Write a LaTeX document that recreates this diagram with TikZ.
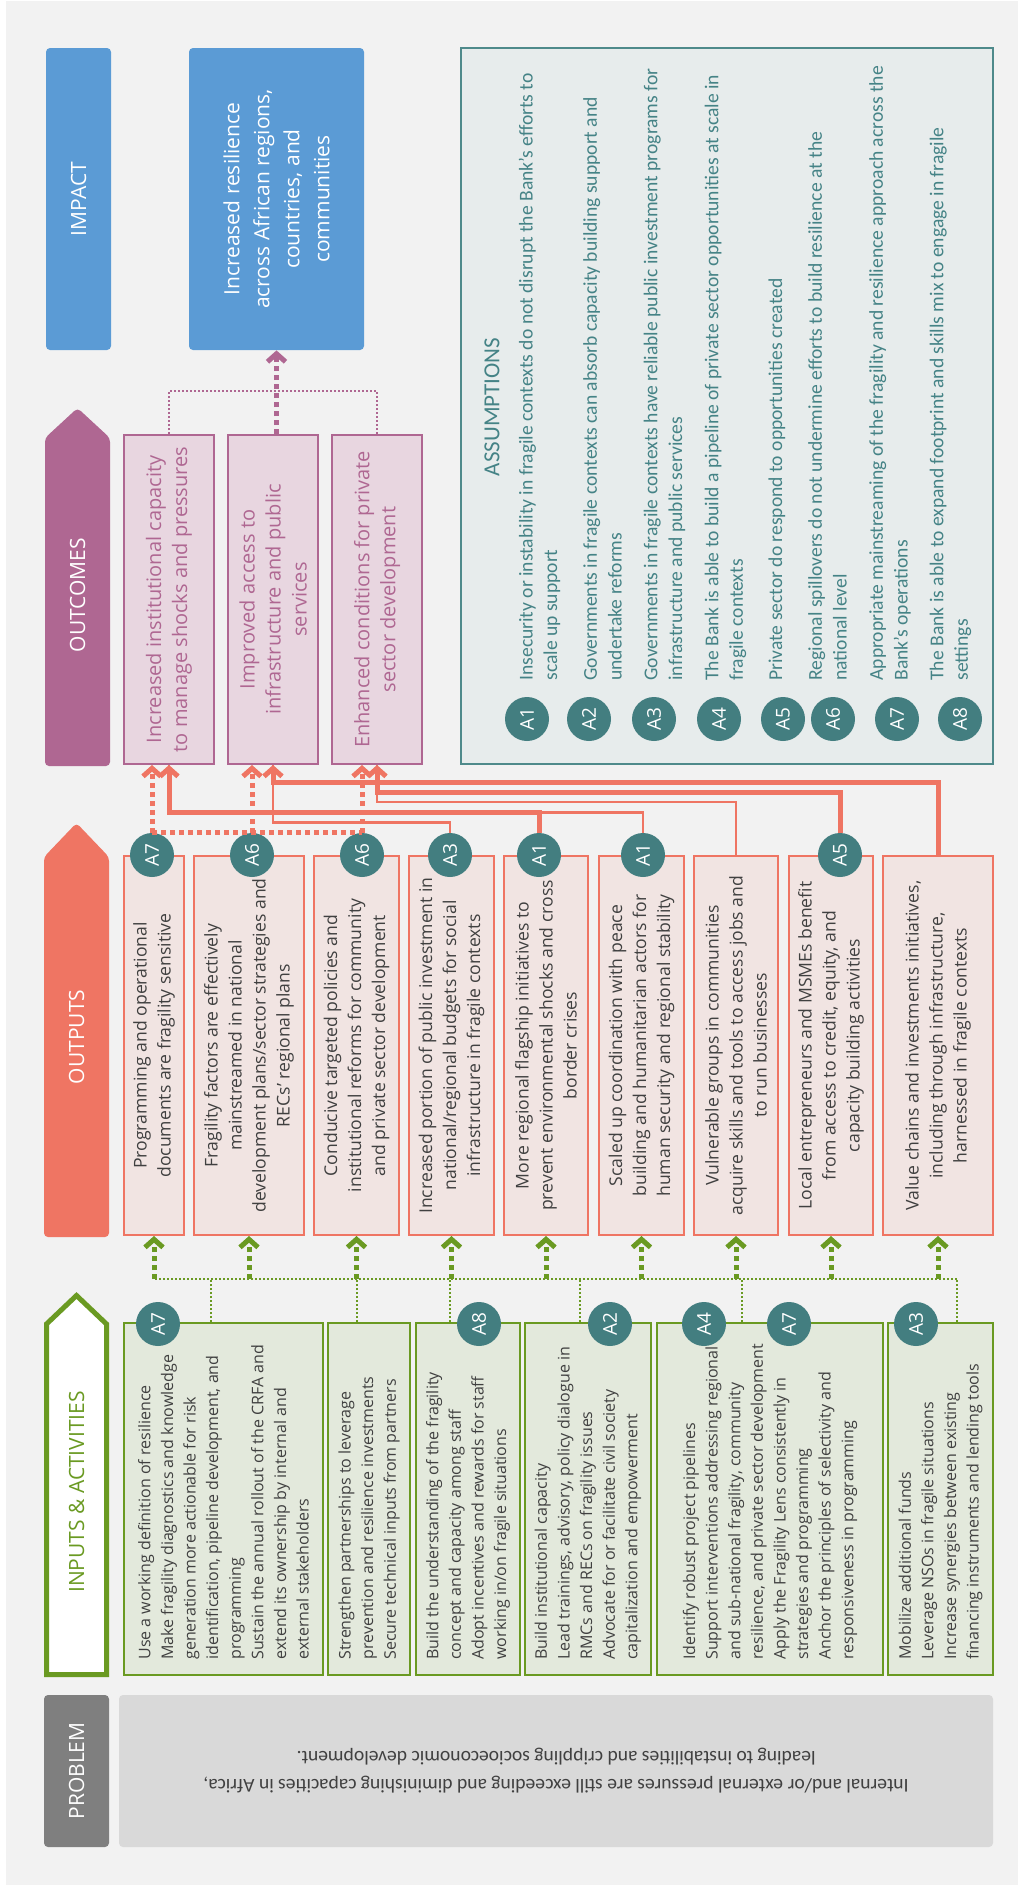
\documentclass[tikz,border=0pt]{standalone}
\usepackage{fontspec}
\usepackage{graphicx}
\setmainfont{Open Sans}
\newfontfamily\calfont{Carlito}
\usetikzlibrary{arrows.meta}

\definecolor{bggray}{HTML}{F2F2F2}
\definecolor{impblue}{HTML}{5B9BD5}
\definecolor{mauve}{HTML}{AF6792}
\definecolor{mauvefill}{HTML}{E8D6E0}
\definecolor{coral}{HTML}{EF7563}
\definecolor{coralfill}{HTML}{F1E4E2}
\definecolor{leaf}{HTML}{6A9A22}
\definecolor{leaffill}{HTML}{E3E9DC}
\definecolor{tealdark}{HTML}{437E80}
\definecolor{tealline}{HTML}{4F8A8B}
\definecolor{tealfill}{HTML}{E7ECEC}
\definecolor{tealtext}{HTML}{458386}
\definecolor{probhead}{HTML}{7F7F7F}
\definecolor{probfill}{HTML}{D9D9D9}
\definecolor{inktext}{HTML}{404040}

\tikzset{
  hdrbox/.style={rotate=90,rounded corners=2pt,minimum height=32.5pt,inner sep=0pt,text=white,font=\fontsize{10.5}{12}\selectfont},
  hdrtext/.style={rotate=90,inner sep=0pt,text=white,font=\fontsize{10.5}{12}\selectfont},
  impbox/.style={fill=impblue,rounded corners=2pt,minimum width=87.5pt,minimum height=151pt},
  imptext/.style={rotate=90,align=center,inner sep=0pt,text=white,font=\fontsize{10.5}{15}\selectfont},
  ocbox/.style={draw=mauve,line width=1pt,fill=mauvefill,minimum width=45pt,minimum height=164.5pt,inner sep=0pt},
  octext/.style={rotate=90,align=center,inner sep=0pt,text=mauve,font=\fontsize{10}{13}\selectfont},
  assbox/.style={draw=tealline,line width=1pt,fill=tealfill,minimum width=266pt,minimum height=358pt},
  asstitle/.style={rotate=90,inner sep=0pt,text=tealtext,font=\calfont\fontsize{11.5}{13}\selectfont},
  asstext/.style={rotate=90,anchor=west,align=left,inner sep=0pt,text=tealtext,font=\calfont\fontsize{9.8}{12.3}\selectfont},
  outbox/.style={draw=coral,line width=1pt,fill=coralfill,minimum height=189.5pt,inner sep=0pt},
  outtext/.style={rotate=90,align=center,inner sep=0pt,text=inktext,font=\fontsize{8.8}{12}\selectfont},
  inbox/.style={draw=leaf,line width=1pt,fill=leaffill,minimum height=176pt,inner sep=0pt},
  intext/.style={rotate=90,anchor=west,align=left,inner sep=0pt,text=inktext,font=\fontsize{8}{11.3}\selectfont},
  probbox/.style={fill=probfill,rounded corners=2pt,minimum width=437pt,minimum height=76pt},
  probtext/.style={rotate=180,align=center,inner sep=0pt,text=inktext,font=\calfont\fontsize{9.8}{14}\selectfont},
  badge/.style={circle,fill=tealdark,text=white,minimum size=22pt,inner sep=0pt,font=\fontsize{9.5}{10}\selectfont},
  chevron/.style={-{Straight Barb[length=4pt,width=9pt]}},
  coralthick/.style={draw=coral,line width=2.5pt},
  coralthin/.style={draw=coral,line width=1.2pt},
  coraldot/.style={draw=coral,line width=2.5pt,dash pattern=on 2.5pt off 2pt},
  mauvedot/.style={draw=mauve,line width=1pt,dash pattern=on 1pt off 1pt},
  mauvearrow/.style={draw=mauve,line width=2.5pt,dash pattern=on 2.5pt off 2pt,chevron},
  leafbus/.style={draw=leaf,line width=1pt,dash pattern=on 1pt off 1pt},
  leafarrow/.style={draw=leaf,line width=2.5pt,dash pattern=on 2.5pt off 2pt,chevron}
}

\newcommand{\badge}[3]{%
 \node[badge] (#1) at (#2) {\rotatebox{90}{#3}};%
}
\newcommand{\outcomebox}[3]{%
 \node[ocbox] (#1) at (#2) {};%
 \node[octext] (#1t) at (#1) {#3};%
}
\newcommand{\outputbox}[4]{%
 \node[outbox,minimum width=#3] (#1) at (#2) {};%
 \node[outtext] (#1t) at (#1) {#4};%
}
\newcommand{\inputbox}[4]{%
 \node[inbox,minimum width=#3] (#1) at (#2) {};%
 \node[intext] (#1t) at ([yshift=8pt]#1.south) {#4};%
}

\begin{document}
\begin{tikzpicture}[x=0.5pt,y=-0.5pt]
  \useasboundingbox (0,0) rectangle (1023,1886);
  \fill[white] (0,0) rectangle (1023,1886);
  \fill[bggray] (6,1) rectangle (1018,1885);

  % impact
  \node[hdrbox,fill=impblue,minimum width=151pt] (impacthd) at (78.5,199) {IMPACT};
  \node[impbox] (impact) at (276.5,199) {};
  \node[imptext] (impactt) at (impact) {Increased resilience\\across African regions,\\countries, and\\communities};

  % outcomes
  \fill[mauve,rounded corners=2pt] (45,766) -- (45,438) -- (77.5,408) -- (110,438) -- (110,766) -- cycle;
  \node[hdrtext] (outcomeshd) at (77.5,595) {OUTCOMES};
  \outcomebox{oc1}{169,599.5}{Increased institutional capacity\\to manage shocks and pressures}
  \outcomebox{oc2}{273,599.5}{Improved access to\\infrastructure and public\\services}
  \outcomebox{oc3}{377,599.5}{Enhanced conditions for private\\sector development}

  % assumptions
  \node[assbox] (assume) at (727,406) {};
  \node[asstitle] (assumet) at (492,407) {ASSUMPTIONS};
  \badge{a1}{527,719}{A1}
  \badge{a2}{589,719}{A2}
  \badge{a3}{654,719}{A3}
  \badge{a4}{719,719}{A4}
  \badge{a5}{783,719}{A5}
  \badge{a6}{833,719}{A6}
  \badge{a7}{897,719}{A7}
  \badge{a8}{960,719}{A8}
  \node[asstext] (a1t) at (539.5,681) {Insecurity or instability in fragile contexts do not disrupt the Bank’s efforts to\\scale up support};
  \node[asstext] (a2t) at (602.5,681) {Governments in fragile contexts can absorb capacity building support and\\undertake reforms};
  \node[asstext] (a3t) at (664.5,681) {Governments in fragile contexts have reliable public investment programs for\\infrastructure and public services};
  \node[asstext] (a4t) at (725.5,681) {The Bank is able to build a pipeline of private sector opportunities at scale in\\fragile contexts};
  \node[asstext] (a5t) at (777,681) {Private sector do respond to opportunities created};
  \node[asstext] (a6t) at (827.5,681) {Regional spillovers do not undermine efforts to build resilience at the\\national level};
  \node[asstext] (a7t) at (890,681) {Appropriate mainstreaming of the fragility and resilience approach across the\\Bank’s operations};
  \node[asstext] (a8t) at (950.5,681) {The Bank is able to expand footprint and skills mix to engage in fragile\\settings};

  % outputs
  \fill[coral,rounded corners=2pt] (44,1237) -- (44,857) -- (76.5,823) -- (109,857) -- (109,1237) -- cycle;
  \node[hdrtext] (outputshd) at (76.5,1037) {OUTPUTS};
  \outputbox{o1}{154,1045.5}{30pt}{Programming and operational\\documents are fragility sensitive}
  \outputbox{o2}{249,1045.5}{55pt}{Fragility factors are effectively\\mainstreamed in national\\development plans/sector strategies and\\RECs’ regional plans}
  \outputbox{o3}{356.5,1045.5}{42.5pt}{Conducive targeted policies and\\institutional reforms for community\\and private sector development}
  \outputbox{o4}{451.5,1045.5}{42.5pt}{Increased portion of public investment in\\national/regional budgets for social\\infrastructure in fragile contexts}
  \outputbox{o5}{546,1045.5}{42pt}{More regional flagship initiatives to\\prevent environmental shocks and cross\\border crises}
  \outputbox{o6}{641.5,1045.5}{42.5pt}{Scaled up coordination with peace\\building and humanitarian actors for\\human security and regional stability}
  \outputbox{o7}{736,1045.5}{42pt}{Vulnerable groups in communities\\acquire skills and tools to access jobs and\\to run businesses}
  \outputbox{o8}{831,1045.5}{42pt}{Local entrepreneurs and MSMEs benefit\\from access to credit, equity, and\\capacity building activities}
  \outputbox{o9}{938,1045.5}{55pt}{Value chains and investments initiatives,\\including through infrastructure,\\harnessed in fragile contexts}
  \badge{o1c}{152,855}{A7}
  \badge{o2c}{252,855}{A6}
  \badge{o3c}{362,855}{A6}
  \badge{o4c}{450,855}{A3}
  \badge{o5c}{539,855}{A1}
  \badge{o6c}{643,855}{A1}
  \badge{o8c}{840,855}{A5}

  % inputs & activities
  \draw[leaf,line width=2.5pt,fill=white] (46.5,1674.5) -- (46.5,1324) -- (76.5,1295.5) -- (106.5,1324) -- (106.5,1674.5) -- cycle;
  \node[hdrtext,text=leaf] (inputshd) at (76.5,1492) {INPUTS \& ACTIVITIES};
  \inputbox{i1}{223.5,1499}{99.5pt}{Use a working definition of resilience\\Make fragility diagnostics and knowledge\\generation more actionable for risk\\identification, pipeline development, and\\programming\\Sustain the annual rollout of the CRFA and\\extend its ownership by internal and\\external stakeholders}
  \inputbox{i2}{369,1499}{41pt}{Strengthen partnerships to leverage\\prevention and resilience investments\\Secure technical inputs from partners}
  \inputbox{i3}{468,1499}{52pt}{Build the understanding of the fragility\\concept and capacity among staff\\Adopt incentives and rewards for staff\\working in/on fragile situations}
  \inputbox{i4}{588,1499}{63pt}{Build institutional capacity\\Lead trainings, advisory, policy dialogue in\\RMCs and RECs on fragility issues\\Advocate for or facilitate civil society\\capitalization and empowerment}
  \inputbox{i5}{770,1499}{113pt}{Identify robust project pipelines\\Support interventions addressing regional\\and sub-national fragility, community\\resilience, and private sector development\\Apply the Fragility Lens consistently in\\strategies and programming\\Anchor the principles of selectivity and\\responsiveness in programming}
  \inputbox{i6}{940.5,1499}{52.5pt}{Mobilize additional funds\\Leverage NSOs in fragile situations\\Increase synergies between existing\\financing instruments and lending tools}
  \badge{i1c}{158,1324}{A7}
  \badge{i3c}{479,1324}{A8}
  \badge{i4c}{610,1324}{A2}
  \badge{i5c}{704,1324}{A4}
  \badge{i5d}{789,1324}{A7}
  \badge{i6c}{916,1324}{A3}

  % problem
  \node[hdrbox,fill=probhead,minimum width=76pt] (problemhd) at (76.5,1771) {PROBLEM};
  \node[probbox] (problem) at (556,1771) {};
  \node[probtext] (problemt) at (problem) {Internal and/or external pressures are still exceeding and diminishing capacities in Africa,\\leading to instabilities and crippling socioeconomic development.};

  % inputs to outputs
  \coordinate (gbusL) at (155,1279);
  \coordinate (gbusR) at (957,1279);
  \draw[leafbus] (gbusL) -- (gbusR);
  \draw[leafbus] ([xshift=-6.25pt]i1.north) -- ++(0,-44);
  \draw[leafbus] ([xshift=-6pt]i2.north) -- ++(0,-44);
  \draw[leafbus] ([xshift=-9pt]i3.north) -- ++(0,-44);
  \draw[leafbus] ([xshift=-4pt]i4.north) -- ++(0,-44);
  \draw[leafbus] ([xshift=-14pt]i5.north) -- ++(0,-44);
  \draw[leafbus] ([xshift=8.25pt]i6.north) -- ++(0,-44);
  \draw[leafarrow] (o1.south |- gbusL) -- (o1.south);
  \draw[leafarrow] (o2.south |- gbusL) -- (o2.south);
  \draw[leafarrow] (o3.south |- gbusL) -- (o3.south);
  \draw[leafarrow] (o4.south |- gbusL) -- (o4.south);
  \draw[leafarrow] (o5.south |- gbusL) -- (o5.south);
  \draw[leafarrow] (o6.south |- gbusL) -- (o6.south);
  \draw[leafarrow] (o7.south |- gbusL) -- (o7.south);
  \draw[leafarrow] (o8.south |- gbusL) -- (o8.south);
  \draw[leafarrow] (o9.south |- gbusL) -- (o9.south);

  % outputs to outcomes
  \draw[coralthin] (o6c.north) -- ++(0,-20) -| (oc1.south);
  \draw[coralthick,chevron] (o5c.north) -- ++(0,-20) -| (oc1.south);
  \draw[coralthin] (o4c.north) -- ++(0,-10) -| (oc2.south);
  \draw[coralthick,chevron] (o9.north) -- ++(0,-73) -| (oc2.south);
  \draw[coralthin] (o7.north) -- ++(0,-53) -| (oc3.south);
  \draw[coralthick,chevron] (o8c.north) -- ++(0,-40) -| (oc3.south);
  \draw[coraldot] (o1c.north) -- (o3c.north);
  \draw[coraldot,chevron] (o1c.north) -- (o1c.north |- oc1.south);
  \draw[coraldot,chevron] (o2c.north) -- (o2c.north |- oc2.south);
  \draw[coraldot,chevron] (o3c.north) -- (o3c.north |- oc3.south);

  % outcomes to impact
  \draw[mauvedot] (oc1.north) -- ++(0,-43) -| (oc3.north);
  \draw[mauvearrow] (impact.south |- oc2.north) -- (impact.south);
\end{tikzpicture}
\end{document}
